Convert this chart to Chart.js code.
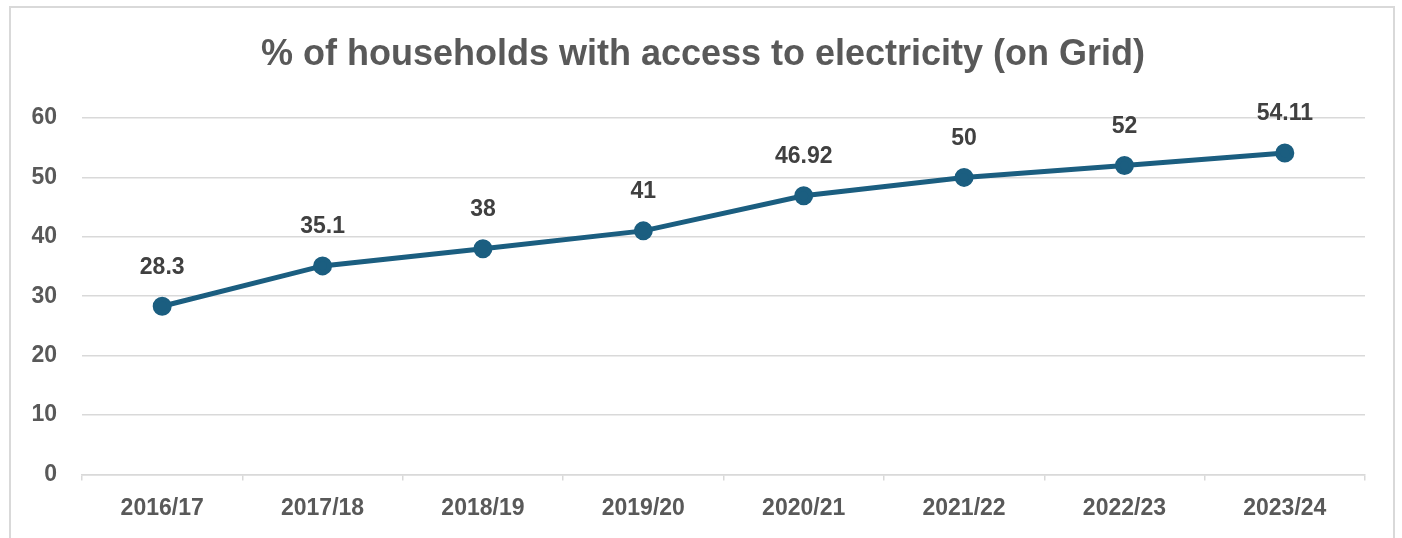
<!DOCTYPE html>
<html>
<head>
<meta charset="utf-8">
<script src="https://cdn.jsdelivr.net/npm/chart.js@4"></script>
<style>
  body { margin: 0; background: #fff; }
  #frame {
    position: absolute; left: 9px; top: 6px; width: 1386px; height: 560px;
    border: 2px solid #d9d9d9; box-sizing: border-box;
  }
  #wrap { position: absolute; left: 0; top: 0; width: 1402px; height: 538px; }
</style>
</head>
<body>
<div id="frame"></div>
<div id="wrap"><canvas id="chart"></canvas></div>
<script>
const years = ['2016/17', '2017/18', '2018/19', '2019/20', '2020/21', '2021/22', '2022/23', '2023/24'];
const onGrid = [28.3, 35.1, 38, 41, 46.92, 50, 52, 54.11];
const valueLabels = ['28.3', '35.1', '38', '41', '46.92', '50', '52', '54.11'];
const yTicks = [0, 10, 20, 30, 40, 50, 60];
const chartTitle = '% of households with access to electricity (on Grid)';

const lineColor = '#1b5e80';
const textGray = '#595959';
const fontName = '"Liberation Sans", Arial, sans-serif';

// draws the value over each point
const pointLabels = {
  id: 'pointLabels',
  afterDatasetsDraw(chart) {
    const ctx = chart.ctx;
    const meta = chart.getDatasetMeta(0);
    ctx.save();
    ctx.font = 'bold 23px ' + fontName;
    ctx.fillStyle = '#404040';
    ctx.textAlign = 'center';
    ctx.textBaseline = 'middle';
    meta.data.forEach((pt, i) => {
      ctx.fillText(valueLabels[i], pt.x, pt.y - 39);
    });
    ctx.restore();
  }
};

// title centred on the frame, not on the plot
const frameTitle = {
  id: 'frameTitle',
  afterDraw(chart) {
    const ctx = chart.ctx;
    ctx.save();
    ctx.font = 'bold 36px ' + fontName;
    ctx.fillStyle = textGray;
    ctx.textAlign = 'center';
    ctx.textBaseline = 'middle';
    ctx.fillText(chartTitle, 703, 55);
    ctx.restore();
  }
};

const ctx = document.getElementById('chart').getContext('2d');
new Chart(ctx, {
  type: 'line',
  data: {
    labels: years,
    datasets: [{
      data: onGrid,
      borderColor: lineColor,
      backgroundColor: lineColor,
      borderWidth: 5,
      pointRadius: 7,
      pointHoverRadius: 7,
      tension: 0
    }]
  },
  options: {
    responsive: true,
    maintainAspectRatio: false,
    animation: false,
    events: [],
    layout: { padding: { left: 30, right: 37, top: 118, bottom: 2 } },
    plugins: {
      legend: { display: false },
      tooltip: { enabled: false },
      title: { display: false }
    },
    scales: {
      x: {
        offset: true,
        grid: {
          offset: true,
          drawOnChartArea: false,
          drawTicks: true,
          tickLength: 6,
          color: '#d9d9d9',
          lineWidth: 1.5
        },
        border: { display: true, color: '#d9d9d9', width: 1.5 },
        ticks: {
          color: textGray,
          padding: 14,
          font: { family: fontName, size: 23, weight: 'bold' },
          maxRotation: 0
        }
      },
      y: {
        min: 0,
        max: 60,
        afterBuildTicks(scale) {
          scale.ticks = yTicks.map(v => ({ value: v }));
        },
        afterFit(scale) { scale.width = 52; },
        grid: { color: '#d9d9d9', lineWidth: 1.5, drawTicks: false },
        border: { display: false },
        ticks: {
          color: textGray,
          padding: 25,
          font: { family: fontName, size: 23, weight: 'bold' }
        }
      }
    }
  },
  plugins: [pointLabels, frameTitle]
});
</script>
</body>
</html>
